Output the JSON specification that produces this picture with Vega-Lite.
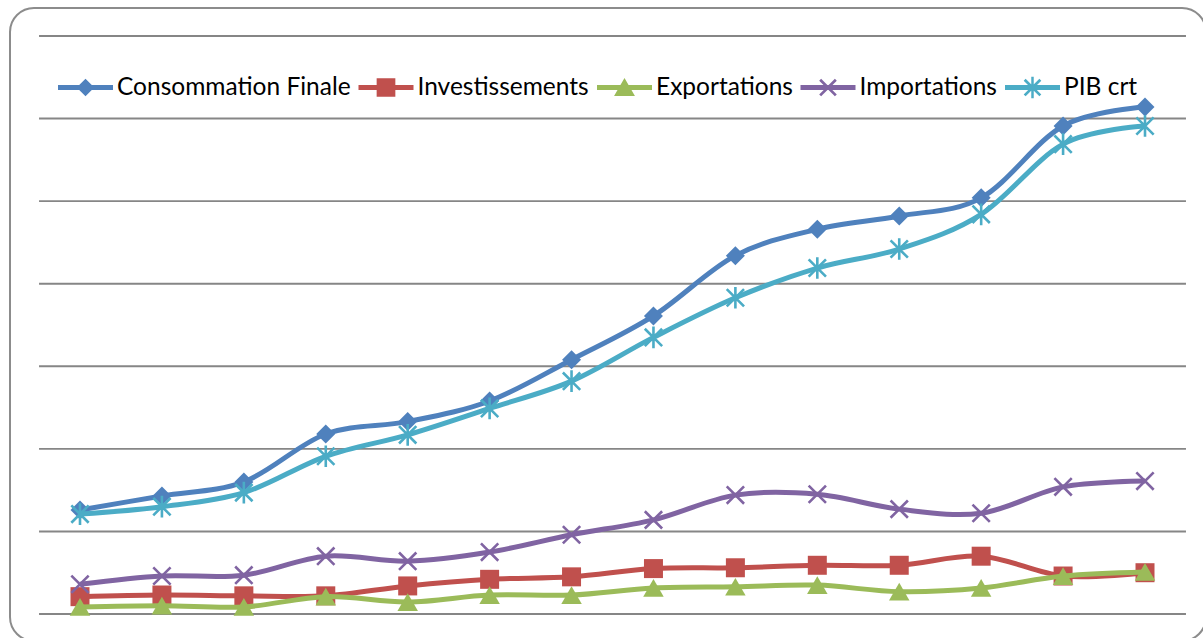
{
  "$schema": "https://vega.github.io/schema/vega-lite/v6.json",
  "width": 1196,
  "height": 633,
  "autosize": {"type": "none"},
  "padding": {"left": 10, "top": 8, "right": -3, "bottom": -3},
  "background": "white",
  "config": {"view": {"stroke": "#8c8c8c", "strokeWidth": 2, "cornerRadius": 24, "fill": "white"}},
  "datasets": {
    "series": [
      {"t": 1, "s": "Consommation Finale", "v": 1260}, {"t": 2, "s": "Consommation Finale", "v": 1430}, {"t": 3, "s": "Consommation Finale", "v": 1600}, {"t": 4, "s": "Consommation Finale", "v": 2180}, {"t": 5, "s": "Consommation Finale", "v": 2330}, {"t": 6, "s": "Consommation Finale", "v": 2580}, {"t": 7, "s": "Consommation Finale", "v": 3080}, {"t": 8, "s": "Consommation Finale", "v": 3610}, {"t": 9, "s": "Consommation Finale", "v": 4340}, {"t": 10, "s": "Consommation Finale", "v": 4660}, {"t": 11, "s": "Consommation Finale", "v": 4820}, {"t": 12, "s": "Consommation Finale", "v": 5040}, {"t": 13, "s": "Consommation Finale", "v": 5910}, {"t": 14, "s": "Consommation Finale", "v": 6140},
      {"t": 1, "s": "Investissements", "v": 210}, {"t": 2, "s": "Investissements", "v": 230}, {"t": 3, "s": "Investissements", "v": 220}, {"t": 4, "s": "Investissements", "v": 220}, {"t": 5, "s": "Investissements", "v": 340}, {"t": 6, "s": "Investissements", "v": 420}, {"t": 7, "s": "Investissements", "v": 450}, {"t": 8, "s": "Investissements", "v": 550}, {"t": 9, "s": "Investissements", "v": 560}, {"t": 10, "s": "Investissements", "v": 590}, {"t": 11, "s": "Investissements", "v": 590}, {"t": 12, "s": "Investissements", "v": 700}, {"t": 13, "s": "Investissements", "v": 460}, {"t": 14, "s": "Investissements", "v": 500},
      {"t": 1, "s": "Exportations", "v": 85}, {"t": 2, "s": "Exportations", "v": 100}, {"t": 3, "s": "Exportations", "v": 85}, {"t": 4, "s": "Exportations", "v": 210}, {"t": 5, "s": "Exportations", "v": 145}, {"t": 6, "s": "Exportations", "v": 230}, {"t": 7, "s": "Exportations", "v": 230}, {"t": 8, "s": "Exportations", "v": 315}, {"t": 9, "s": "Exportations", "v": 330}, {"t": 10, "s": "Exportations", "v": 350}, {"t": 11, "s": "Exportations", "v": 270}, {"t": 12, "s": "Exportations", "v": 315}, {"t": 13, "s": "Exportations", "v": 460}, {"t": 14, "s": "Exportations", "v": 510},
      {"t": 1, "s": "Importations", "v": 360}, {"t": 2, "s": "Importations", "v": 460}, {"t": 3, "s": "Importations", "v": 470}, {"t": 4, "s": "Importations", "v": 700}, {"t": 5, "s": "Importations", "v": 640}, {"t": 6, "s": "Importations", "v": 750}, {"t": 7, "s": "Importations", "v": 960}, {"t": 8, "s": "Importations", "v": 1140}, {"t": 9, "s": "Importations", "v": 1440}, {"t": 10, "s": "Importations", "v": 1450}, {"t": 11, "s": "Importations", "v": 1270}, {"t": 12, "s": "Importations", "v": 1220}, {"t": 13, "s": "Importations", "v": 1540}, {"t": 14, "s": "Importations", "v": 1610},
      {"t": 1, "s": "PIB crt", "v": 1210}, {"t": 2, "s": "PIB crt", "v": 1300}, {"t": 3, "s": "PIB crt", "v": 1470}, {"t": 4, "s": "PIB crt", "v": 1910}, {"t": 5, "s": "PIB crt", "v": 2170}, {"t": 6, "s": "PIB crt", "v": 2490}, {"t": 7, "s": "PIB crt", "v": 2820}, {"t": 8, "s": "PIB crt", "v": 3350}, {"t": 9, "s": "PIB crt", "v": 3830}, {"t": 10, "s": "PIB crt", "v": 4190}, {"t": 11, "s": "PIB crt", "v": 4420}, {"t": 12, "s": "PIB crt", "v": 4840}, {"t": 13, "s": "PIB crt", "v": 5690}, {"t": 14, "s": "PIB crt", "v": 5910}
    ]
  },
  "data": {"name": "series"},
  "layer": [
    {
      "data": {"values": [{"g": 0}, {"g": 1000}, {"g": 2000}, {"g": 3000}, {"g": 4000}, {"g": 5000}, {"g": 6000}, {"g": 7000}]},
      "mark": {"type": "rule", "color": "#868686", "strokeWidth": 1.9},
      "encoding": {
        "y": {"field": "g", "type": "quantitative", "scale": {"domain": [-327, 7339.1], "nice": false, "zero": false}, "axis": null},
        "x": {"datum": 0.5, "type": "quantitative", "scale": {"domain": [0.14554, 14.7445], "nice": false, "zero": false}, "axis": null},
        "x2": {"datum": 14.5}
      }
    },
    {
      "encoding": {
        "x": {"field": "t", "type": "quantitative", "scale": {"domain": [0.14554, 14.7445], "nice": false, "zero": false}, "axis": null},
        "y": {"field": "v", "type": "quantitative", "scale": {"domain": [-327, 7339.1], "nice": false, "zero": false}, "axis": null}
      },
      "layer": [
        {
          "transform": [{"filter": "datum.s === 'Consommation Finale'"}],
          "mark": {"type": "line", "interpolate": "cardinal", "tension": 0, "color": "#4F81BD", "strokeWidth": 5,
            "point": {"shape": "diamond", "size": 361, "filled": true, "color": "#4F81BD", "strokeWidth": 0, "opacity": 1}}
        },
        {
          "transform": [{"filter": "datum.s === 'Investissements'"}],
          "mark": {"type": "line", "interpolate": "cardinal", "tension": 0, "color": "#C0504D", "strokeWidth": 5,
            "point": {"shape": "square", "size": 361, "filled": true, "color": "#C0504D", "strokeWidth": 0, "opacity": 1}}
        },
        {
          "transform": [{"filter": "datum.s === 'Exportations'"}],
          "mark": {"type": "line", "interpolate": "cardinal", "tension": 0, "color": "#9BBB59", "strokeWidth": 5,
            "point": {"shape": "triangle-up", "size": 420, "filled": true, "color": "#9BBB59", "strokeWidth": 0, "opacity": 1}}
        },
        {
          "transform": [{"filter": "datum.s === 'Importations'"}],
          "mark": {"type": "line", "interpolate": "cardinal", "tension": 0, "color": "#8064A2", "strokeWidth": 5,
            "point": {"shape": "M-1,-1L1,1M-1,1L1,-1", "size": 300, "filled": false, "color": "#8064A2", "strokeWidth": 2.6, "opacity": 1}}
        },
        {
          "transform": [{"filter": "datum.s === 'PIB crt'"}],
          "mark": {"type": "line", "interpolate": "cardinal", "tension": 0, "color": "#4BACC6", "strokeWidth": 5,
            "point": {"shape": "M-1,-1L1,1M-1,1L1,-1M0,-1.25L0,1.25", "size": 300, "filled": false, "color": "#4BACC6", "strokeWidth": 2.6, "opacity": 1}}
        },
        {
          "mark": {"type": "point", "filled": true, "opacity": 0, "size": 3025},
          "encoding": {
            "color": {"field": "s", "type": "nominal",
              "scale": {"domain": ["Consommation Finale", "Investissements", "Exportations", "Importations", "PIB crt"], "range": ["#4F81BD", "#C0504D", "#9BBB59", "#8064A2", "#4BACC6"]},
              "legend": {"orient": "none", "legendX": 48, "legendY": 52, "direction": "horizontal", "title": null, "symbolSize": 3025, "symbolOpacity": 1, "symbolStrokeWidth": 0, "labelFont": "Lato", "labelFontSize": 24.5, "labelColor": "#000000", "labelOffset": 4, "columnPadding": 7.5, "padding": 0, "labelLimit": 400}},
            "shape": {"field": "s", "type": "nominal",
              "scale": {"domain": ["Consommation Finale", "Investissements", "Exportations", "Importations", "PIB crt"],
                "range": [
                  "M-1,-0.095L1,-0.095L1,0.095L-1,0.095ZM0,-0.32L0.32,0L0,0.32L-0.32,0Z",
                  "M-1,-0.095L1,-0.095L1,0.095L-1,0.095ZM-0.34,-0.34L0.34,-0.34L0.34,0.34L-0.34,0.34Z",
                  "M-1,-0.095L1,-0.095L1,0.095L-1,0.095ZM0,-0.35L0.38,0.31L-0.38,0.31Z",
                  "M-1,-0.095L1,-0.095L1,0.095L-1,0.095ZM-0.25,-0.32L0.32,0.25L0.25,0.32L-0.32,-0.25ZM0.32,-0.25L-0.25,0.32L-0.32,0.25L0.25,-0.32Z",
                  "M-1,-0.095L1,-0.095L1,0.095L-1,0.095ZM-0.25,-0.32L0.32,0.25L0.25,0.32L-0.32,-0.25ZM0.32,-0.25L-0.25,0.32L-0.32,0.25L0.25,-0.32ZM-0.045,-0.39L0.045,-0.39L0.045,0.39L-0.045,0.39Z"
                ]},
              "legend": {"orient": "none", "legendX": 48, "legendY": 52, "direction": "horizontal", "title": null, "symbolSize": 3025, "symbolOpacity": 1, "symbolStrokeWidth": 0, "labelFont": "Lato", "labelFontSize": 24.5, "labelColor": "#000000", "labelOffset": 4, "columnPadding": 7.5, "padding": 0, "labelLimit": 400}}
          }
        }
      ]
    }
  ]
}
